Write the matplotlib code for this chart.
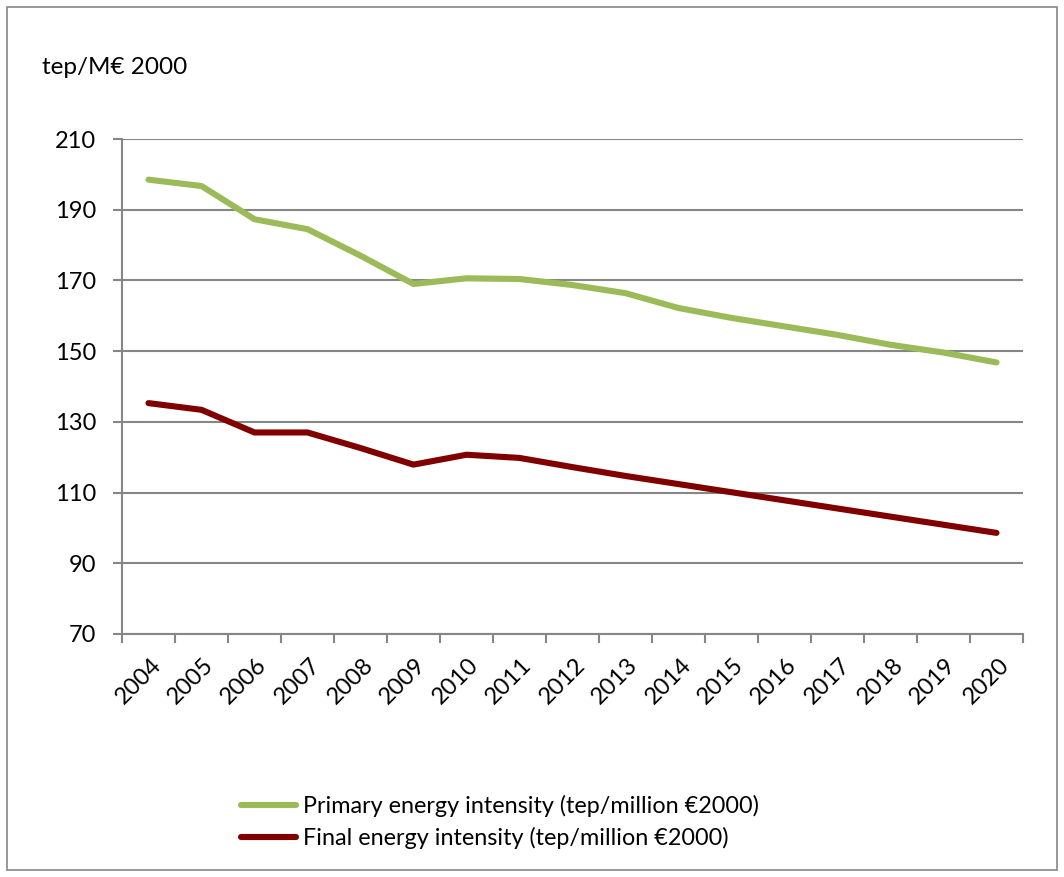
import matplotlib
matplotlib.use("Agg")
import matplotlib.pyplot as plt
from matplotlib.patches import Rectangle
import matplotlib.transforms as mtransforms

plt.rcParams['font.family'] = ['Lato', 'DejaVu Sans']

years = ['2004', '2005', '2006', '2007', '2008', '2009', '2010', '2011', '2012',
         '2013', '2014', '2015', '2016', '2017', '2018', '2019', '2020']
primary = [198.5, 196.7, 187.3, 184.5, 177.0, 169.0, 170.6, 170.4, 168.7,
           166.4, 162.2, 159.4, 157.0, 154.6, 151.8, 149.6, 146.8]
final = [135.3, 133.4, 127.0, 127.0, 122.6, 117.9, 120.7, 119.8, 117.2,
         114.7, 112.4, 110.1, 107.8, 105.5, 103.2, 100.9, 98.6]
y_ticks = [70, 90, 110, 130, 150, 170, 190, 210]
labels = ['Primary energy intensity (tep/million €2000)',
          'Final energy intensity (tep/million €2000)']
colors = ['#9BBB59', '#800000']
unit_label = 'tep/M€ 2000'

W, H = 1064, 877
fig = plt.figure(figsize=(W / 100, H / 100), dpi=100)
ax = fig.add_axes([122 / W, 1 - 634 / H, (1023 - 122) / W, (634 - 139) / H])

grid_c = '#868686'
x = list(range(len(years)))
h1, = ax.plot(x, primary, color=colors[0], lw=4.4, solid_capstyle='round',
              solid_joinstyle='round', zorder=3)
h2, = ax.plot(x, final, color=colors[1], lw=4.4, solid_capstyle='round',
              solid_joinstyle='round', zorder=3)

ax.set_xlim(-0.5, len(years) - 0.5)
ax.set_ylim(y_ticks[0], y_ticks[-1])
ax.set_yticks(y_ticks)
ax.yaxis.grid(True, color=grid_c, lw=1.5)
ax.set_axisbelow(True)

for s in ['top', 'right']:
    ax.spines[s].set_visible(False)
for s in ['left', 'bottom']:
    ax.spines[s].set_color(grid_c)
    ax.spines[s].set_linewidth(1.5)

ax.set_xticks(x)
ax.set_xticks([i - 0.5 for i in range(len(years) + 1)], minor=True)
ax.tick_params(axis='x', which='major', length=0, pad=20)
ax.tick_params(axis='x', which='minor', length=6.5, width=1.5, color=grid_c)
ax.tick_params(axis='y', length=6.5, width=1.5, color=grid_c, pad=12,
               labelsize=17)
ax.set_xticklabels(years, rotation=45, ha='right', va='center',
                   rotation_mode='anchor', fontsize=17)
offset = mtransforms.ScaledTranslation(9 / 100, 0, fig.dpi_scale_trans)
for lab in ax.get_xticklabels():
    lab.set_transform(lab.get_transform() + offset)

fig.text(42 / W, 1 - 68 / H, unit_label, fontsize=17.5, ha='left', va='center')

fig.legend([h1, h2], labels, loc='upper left',
           bbox_to_anchor=(232 / W, 1 - 786 / H), frameon=False,
           fontsize=16.8, handlelength=2.35, handletextpad=0.3,
           labelspacing=0.42, borderaxespad=0)

fig.add_artist(Rectangle((7 / W, 7 / H), (W - 14) / W, (H - 14) / H,
                         transform=fig.transFigure, fill=False,
                         edgecolor='#868686', lw=1.2))

fig.savefig('out.png', dpi=100)
